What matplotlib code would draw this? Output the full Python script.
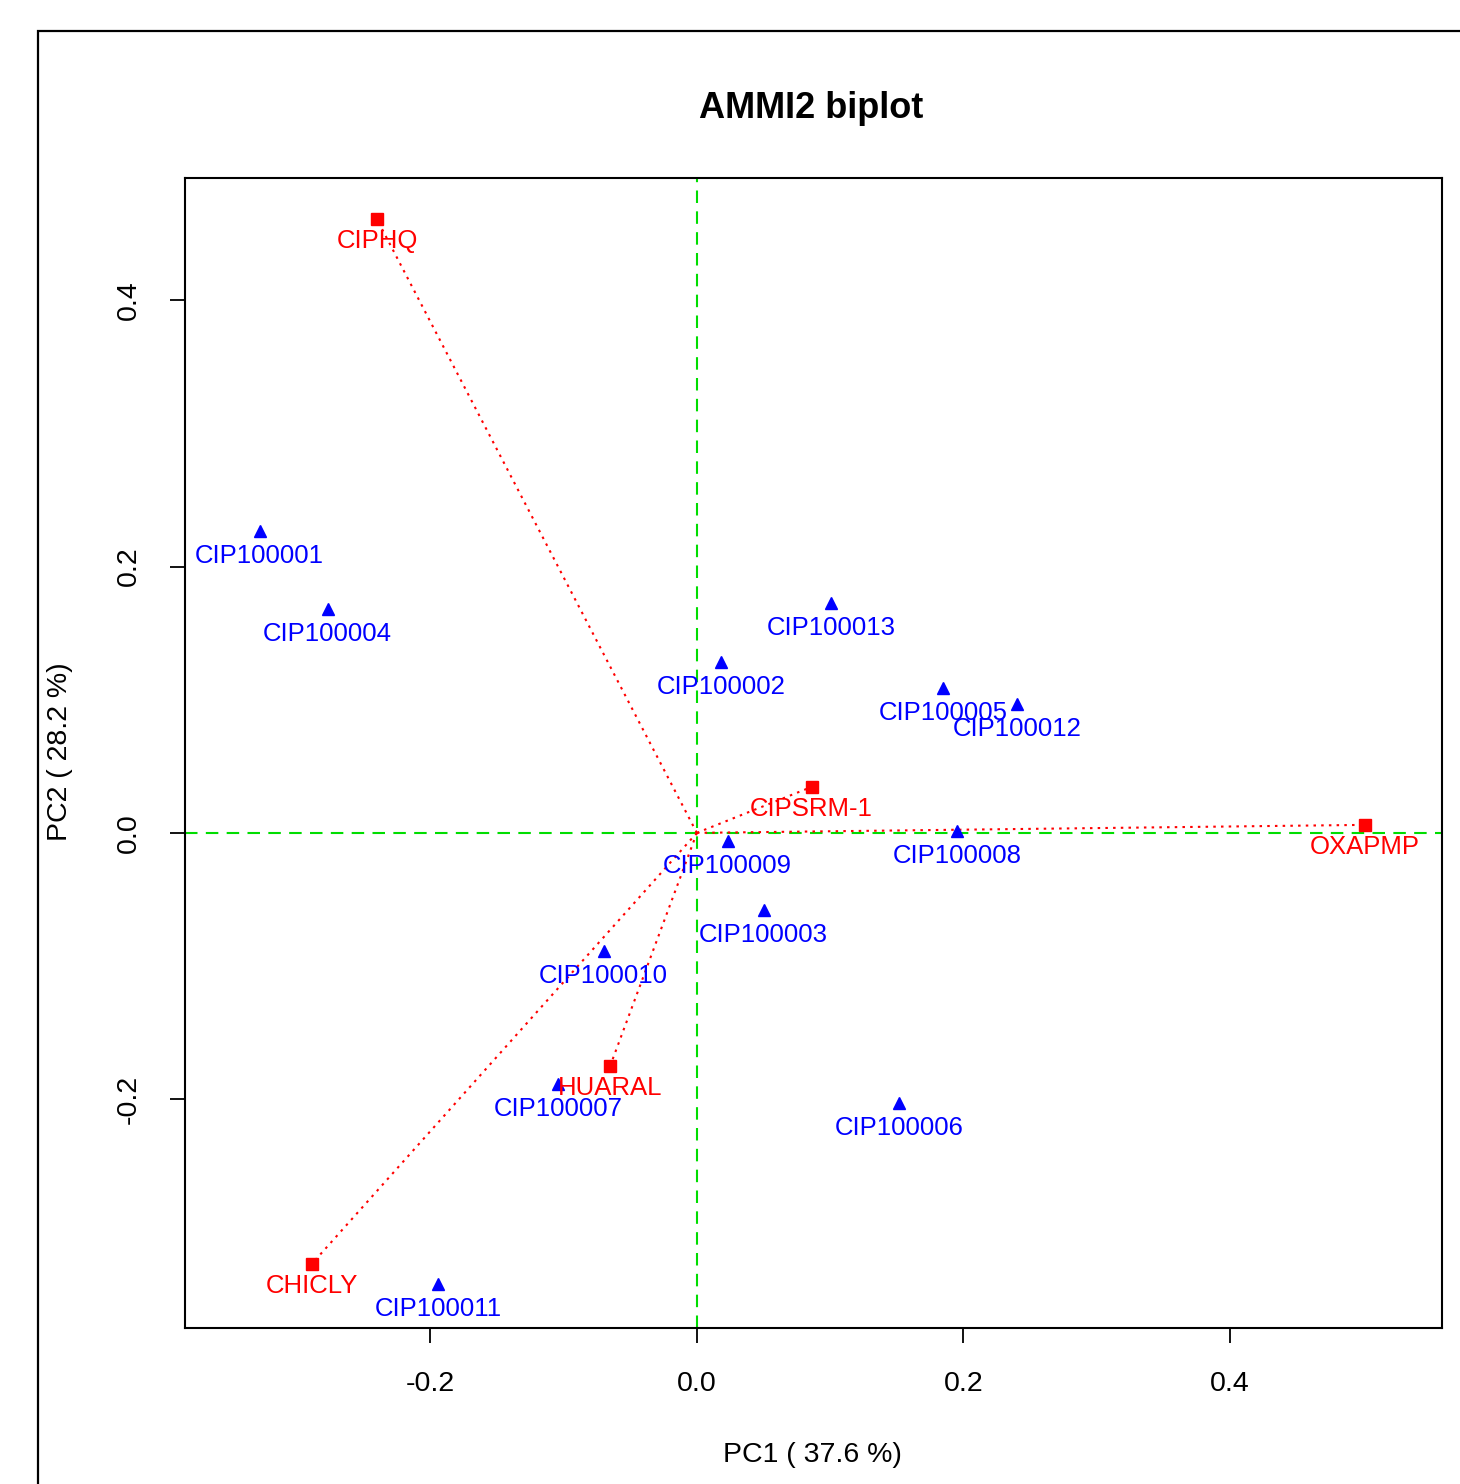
import matplotlib
matplotlib.use("Agg")
import matplotlib.pyplot as plt
from matplotlib.patches import Rectangle

plt.rcParams['font.family'] = ['Liberation Sans', 'DejaVu Sans']

# environments (red squares)
env_names = ['CIPHQ', 'CHICLY', 'HUARAL', 'CIPSRM-1', 'OXAPMP']
env_pc1 = [-0.240, -0.289, -0.065, 0.086, 0.501]
env_pc2 = [0.461, -0.324, -0.175, 0.0345, 0.006]

# genotypes (blue triangles)
gen_names = ['CIP100001', 'CIP100002', 'CIP100003', 'CIP100004', 'CIP100005',
             'CIP100006', 'CIP100007', 'CIP100008', 'CIP100009', 'CIP100010',
             'CIP100011', 'CIP100012', 'CIP100013']
gen_pc1 = [-0.328, 0.018, 0.050, -0.277, 0.185,
           0.152, -0.104, 0.195, 0.023, -0.070,
           -0.194, 0.240, 0.101]
gen_pc2 = [0.227, 0.128, -0.058, 0.168, 0.109,
           -0.203, -0.189, 0.0015, -0.006, -0.089,
           -0.339, 0.097, 0.173]

fig = plt.figure(figsize=(14.6, 14.84), dpi=100)
ax = fig.add_axes([185/1460, 1-1328/1484, (1442-185)/1460, (1328-178)/1484])

# outer frame (cut off at right and bottom like the source)
fig.patches.append(Rectangle((38/1460, -0.1), 1.2, 1.1 - 31/1484, transform=fig.transFigure,
                             fill=False, edgecolor='black', linewidth=1.6))

ax.axvline(0, color='#00dd00', linestyle=(0, (6, 4)), linewidth=1.5, zorder=1)
ax.axhline(0, color='#00dd00', linestyle=(0, (6, 4)), linewidth=1.5, zorder=1)

for x, y in zip(env_pc1, env_pc2):
    ax.plot([0, x], [0, y], color='red', linestyle=(0, (1.2, 2.5)), linewidth=1.5, zorder=2)

ax.plot(gen_pc1, gen_pc2, linestyle='none', marker='^', color='blue', markersize=9, zorder=3)
ax.plot(env_pc1, env_pc2, linestyle='none', marker='s', color='red', markersize=9, zorder=3)

for name, x, y in zip(gen_names, gen_pc1, gen_pc2):
    ax.annotate(name, (x, y), xytext=(0, -18), textcoords='offset points',
                ha='center', va='center', color='blue', fontsize=18.5, zorder=4)
for name, x, y in zip(env_names, env_pc1, env_pc2):
    ax.annotate(name, (x, y), xytext=(0, -16), textcoords='offset points',
                ha='center', va='center', color='red', fontsize=18.5, zorder=4)

ax.set_xlim(-0.384, 0.559)
ax.set_ylim(-0.372, 0.492)
ax.set_xticks([-0.2, 0.0, 0.2, 0.4])
ax.set_yticks([-0.2, 0.0, 0.2, 0.4])
ax.set_xticklabels(['-0.2', '0.0', '0.2', '0.4'])
ax.set_yticklabels(['-0.2', '0.0', '0.2', '0.4'], rotation=90, va='center')
ax.tick_params(labelsize=20.5, length=11, width=1.3, pad=20)
for s in ax.spines.values():
    s.set_linewidth(1.5)

fig.text(812/1460, 1-1455/1484, 'PC1 ( 37.6 %)', ha='center', va='center', fontsize=20.5)
fig.text(60/1460, 1-752/1484, 'PC2 ( 28.2 %)', ha='center', va='center', fontsize=20.5,
         rotation=90)
fig.text(811/1460, 1-108/1484, 'AMMI2 biplot', ha='center', va='center',
         fontsize=26, fontweight='bold')

fig.savefig('out.png', dpi=100)
